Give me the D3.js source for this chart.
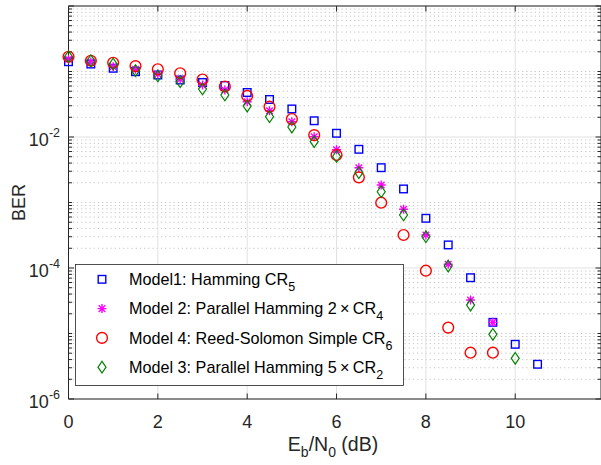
<!DOCTYPE html>
<html>
<head>
<meta charset="utf-8">
<script src="https://cdn.jsdelivr.net/npm/d3@7"></script>
<style>
  body { margin: 0; background: #fff; }
  svg { display: block; font-family: "Liberation Sans", Arial, Helvetica, sans-serif; }
</style>
</head>
<body>
<div id="chart"></div>
<script>
// Eb/N0 steps (dB)
var ebn0 = [0, 0.5, 1, 1.5, 2, 2.5, 3, 3.5, 4, 4.5, 5, 5.5, 6, 6.5, 7, 7.5, 8, 8.5, 9, 9.5, 10, 10.5];

// BER values
var berModel1 = [0.141, 0.130, 0.112, 0.0993, 0.0884, 0.0742, 0.0679, 0.0611, 0.0478, 0.0374, 0.0268,
  0.0177, 0.0114, 0.00649, 0.00340, 0.00161, 5.74e-4, 2.25e-4, 7.11e-5, 1.48e-5, 6.84e-6, 3.39e-6];
var berModel2 = [0.154, 0.140, 0.118, 0.108, 0.0916, 0.0760, 0.0622, 0.0522, 0.0346, 0.0252, 0.0171,
  0.0101, 0.00640, 0.00340, 0.00185, 7.87e-4, 3.19e-4, 1.14e-4, 3.25e-5, 1.48e-5];
var berModel4 = [0.168, 0.146, 0.136, 0.121, 0.108, 0.0939, 0.0755, 0.0590, 0.0423, 0.0290, 0.0188,
  0.0107, 0.00531, 0.00242, 9.93e-4, 3.19e-4, 9.09e-5, 1.23e-5, 5.09e-6, 5.09e-6];
var berModel3 = [0.168, 0.146, 0.130, 0.103, 0.0854, 0.0699, 0.0541, 0.0438, 0.0297, 0.0204, 0.0142,
  0.00848, 0.00504, 0.00285, 0.00146, 6.45e-4, 3.00e-4, 1.07e-4, 2.72e-5, 9.72e-6, 4.18e-6];

var xTicks = [0, 2, 4, 6, 8, 10];
var yMajor = [-6, -4, -2, 0];        // exponents
var yLabelled = [-6, -4, -2];

var W = 601, H = 465;
var L = 68.5, R = 601, T = 6, B = 399;
var axisCol = "#262626";

var svg = d3.select("#chart").append("svg")
    .attr("width", W)
    .attr("height", H);

var x = d3.scaleLinear().domain([0, 11.92]).range([L, R]);
var y = d3.scaleLog().domain([1e-6, 1]).range([B, T]);

// minor log values: 2..9 x 10^k plus the odd decades
var yMinor = [];
for (var k = -6; k < 0; k++) {
    for (var m = 1; m <= 9; m++) {
        if (m == 1 && k % 2 == 0) continue;
        yMinor.push(m * Math.pow(10, k));
    }
}

// grid
var grid = svg.append("g");
grid.selectAll(".minor")
    .data(yMinor)
    .enter().append("line")
    .attr("x1", L).attr("x2", R)
    .attr("y1", function(d) { return y(d); })
    .attr("y2", function(d) { return y(d); })
    .style("stroke", "#c4c4c4")
    .style("stroke-width", 1)
    .style("stroke-dasharray", "1.2,3");

grid.selectAll(".hmaj")
    .data(yMajor)
    .enter().append("line")
    .attr("x1", L).attr("x2", R)
    .attr("y1", function(d) { return y(Math.pow(10, d)); })
    .attr("y2", function(d) { return y(Math.pow(10, d)); })
    .style("stroke", "#e1e1e1")
    .style("stroke-width", 1);

grid.selectAll(".vmaj")
    .data(xTicks)
    .enter().append("line")
    .attr("x1", function(d) { return x(d); })
    .attr("x2", function(d) { return x(d); })
    .attr("y1", T).attr("y2", B)
    .style("stroke", "#e1e1e1")
    .style("stroke-width", 1);

// axes box
var ax = svg.append("g").style("stroke", axisCol).style("stroke-width", 1).style("fill", "none");
ax.append("line").attr("x1", L).attr("x2", R).attr("y1", B).attr("y2", B);
ax.append("line").attr("x1", L).attr("x2", R).attr("y1", T).attr("y2", T);
ax.append("line").attr("x1", L).attr("x2", L).attr("y1", T).attr("y2", B);
ax.append("line").attr("x1", R).attr("x2", R).attr("y1", T).attr("y2", B);

// x ticks (inward, bottom and top)
xTicks.forEach(function(d) {
    ax.append("line").attr("x1", x(d)).attr("x2", x(d)).attr("y1", B).attr("y2", B - 5.5);
    ax.append("line").attr("x1", x(d)).attr("x2", x(d)).attr("y1", T).attr("y2", T + 5.5);
});
// y ticks
yMajor.forEach(function(e) {
    var yy = y(Math.pow(10, e));
    ax.append("line").attr("x1", L).attr("x2", L + 5.5).attr("y1", yy).attr("y2", yy);
    ax.append("line").attr("x1", R).attr("x2", R - 5.5).attr("y1", yy).attr("y2", yy);
});
yMinor.forEach(function(v) {
    ax.append("line").attr("x1", L).attr("x2", L + 3.5).attr("y1", y(v)).attr("y2", y(v));
    ax.append("line").attr("x1", R).attr("x2", R - 3.5).attr("y1", y(v)).attr("y2", y(v));
});

// tick labels
svg.append("g").selectAll("text")
    .data(xTicks)
    .enter().append("text")
    .attr("x", function(d) { return x(d); })
    .attr("y", 427.5)
    .attr("text-anchor", "middle")
    .style("font-size", "18px")
    .style("fill", axisCol)
    .text(function(d) { return d; });

var yl = svg.append("g").selectAll("text")
    .data(yLabelled)
    .enter().append("text")
    .attr("x", 60)
    .attr("y", function(d) { return y(Math.pow(10, d)) + 8.5; })
    .attr("text-anchor", "end")
    .style("font-size", "18px")
    .style("fill", axisCol);
yl.append("tspan").text("10");
yl.append("tspan").attr("dy", -8.5).style("font-size", "12.5px").text(function(d) { return d; });

// axis titles
var xt = svg.append("text")
    .attr("x", 333).attr("y", 451)
    .attr("text-anchor", "middle")
    .style("font-size", "19.5px")
    .style("fill", axisCol);
xt.append("tspan").text("E");
xt.append("tspan").attr("dy", 5.5).style("font-size", "14px").text("b");
xt.append("tspan").attr("dy", -5.5).text("/N");
xt.append("tspan").attr("dy", 5.5).style("font-size", "14px").text("0");
xt.append("tspan").attr("dy", -5.5).text(" (dB)");

svg.append("text")
    .attr("transform", "translate(25," + ((T + B) / 2) + ") rotate(-90)")
    .attr("text-anchor", "middle")
    .style("font-size", "18px")
    .style("fill", axisCol)
    .text("BER");

// marker shapes
function drawMarker(g, kind, col) {
    if (kind == "square") {
        g.append("rect").attr("x", -3.8).attr("y", -3.8).attr("width", 7.6).attr("height", 7.6)
            .style("fill", "none").style("stroke", col).style("stroke-width", 1.4);
    } else if (kind == "star") {
        g.append("path").attr("d", "M-4.5,0H4.5M0,-4.5V4.5M-3.3,-3.3L3.3,3.3M-3.3,3.3L3.3,-3.3")
            .style("fill", "none").style("stroke", col).style("stroke-width", 1.4);
    } else if (kind == "circle") {
        g.append("circle").attr("r", 5.4)
            .style("fill", "none").style("stroke", col).style("stroke-width", 1.4);
    } else {
        g.append("path").attr("d", "M0,-5.8L4,0L0,5.8L-4,0Z")
            .style("fill", "none").style("stroke", col).style("stroke-width", 1.2);
    }
}

var series = [
    { name: "Model1: Hamming CR", sub: "5", values: berModel1, kind: "square", color: "#0000ff" },
    { name: "Model 2: Parallel Hamming 2\u2009\u00D7\u2009CR", sub: "4", values: berModel2, kind: "star", color: "#ff00ff" },
    { name: "Model 4: Reed-Solomon Simple CR", sub: "6", values: berModel4, kind: "circle", color: "#ff0000" },
    { name: "Model 3: Parallel Hamming 5\u2009\u00D7\u2009CR", sub: "2", values: berModel3, kind: "diamond", color: "#008000" }
];

series.forEach(function(s) {
    var pts = svg.append("g").selectAll("g")
        .data(s.values)
        .enter().append("g")
        .attr("transform", function(d, i) { return "translate(" + x(ebn0[i]) + "," + y(d) + ")"; });
    pts.each(function() { drawMarker(d3.select(this), s.kind, s.color); });
});

// legend
var leg = svg.append("g");
leg.append("rect")
    .attr("x", 75.5).attr("y", 264.5).attr("width", 328).attr("height", 121)
    .style("fill", "#fff").style("stroke", axisCol).style("stroke-width", 0.8);

series.forEach(function(s, i) {
    var cy = 279.3 + i * 29.3;
    var mg = leg.append("g").attr("transform", "translate(102," + cy + ")");
    drawMarker(mg, s.kind, s.color);
    var t = leg.append("text")
        .attr("x", 129).attr("y", cy + 5.8)
        .style("font-size", "16.2px")
        .style("fill", "#000");
    t.append("tspan").text(s.name);
    t.append("tspan").attr("dy", 6).style("font-size", "12.5px").text(s.sub);
});
</script>
</body>
</html>
